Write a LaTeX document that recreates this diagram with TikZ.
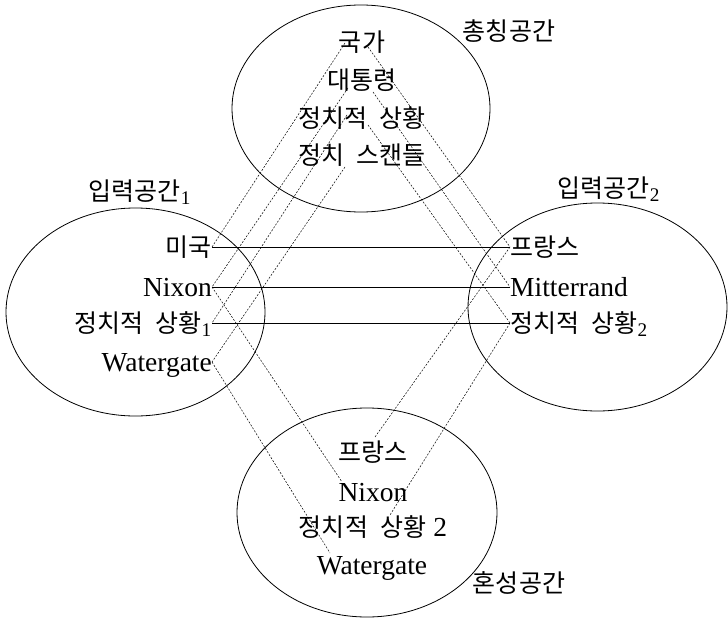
\documentclass[tikz,border=0pt]{standalone}
\usepackage{fontspec}
\setmainfont{Liberation Serif}
\newfontfamily\kr{Noto Sans CJK KR}[Scale=0.91,WordSpace=2.2]
\usetikzlibrary{calc}

\begin{document}
\begin{tikzpicture}[x=1pt, y=-1pt,
		font=\fontsize{27.5}{31}\selectfont,
		space/.style={draw, line width=0.8pt},
		item/.style={inner sep=0pt, text height=18pt, text depth=0pt},
		link/.style={line width=0.6pt},
		map/.style={line width=0.5pt, dash pattern=on 2pt off 1.5pt}]
			
			\useasboundingbox (0,0) rectangle (728,618);
			
			\draw[space] (361,108.5) ellipse (129pt and 103.5pt);
			\draw[space] (135.5,312) ellipse (129.5pt and 104pt);
			\draw[space] (597.5,307) ellipse (129.5pt and 104pt);
			\draw[space] (367,512.5) ellipse (130pt and 104.5pt);
			
			\draw(509,31) node(gname){\kr 총칭공간};
			\draw(140,192) node(iname1){{\kr 입력공간}\textsubscript{1}};
			\draw(609,189) node(iname2){{\kr 입력공간}\textsubscript{2}};
			\draw(519,583) node(bname){\kr 혼성공간};
			
			\draw(362,43) node[item](g1){\kr 국가};
			\draw(362,80) node[item](g2){\kr 대통령};
			\draw(362,118) node[item](g3){\kr 정치적 상황};
			\draw(362,155) node[item](g4){\kr 정치 스캔들};
			
			\draw(212,247) node[item, anchor=east](a1){\kr 미국};
			\draw(212,287) node[item, anchor=east](a2){Nixon};
			\draw(212,323) node[item, anchor=east](a3){{\kr 정치적 상황}\textsubscript{1}};
			\draw(212,362) node[item, anchor=east](a4){Watergate};
			
			\draw(510,247) node[item, anchor=west](b1){\kr 프랑스};
			\draw(510,287) node[item, anchor=west](b2){Mitterrand};
			\draw(510,323) node[item, anchor=west](b3){{\kr 정치적 상황}\textsubscript{2}};
			
			\draw(373,452) node[item](c1){\kr 프랑스};
			\draw(373,492) node[item](c2){Nixon};
			\draw(373,527) node[item](c3){{\kr 정치적 상황} 2};
			\draw(372,565) node[item](c4){Watergate};
			
			
			\draw[link] (a1.east) -- (b1.west);
			\draw[link] (a2.east) -- (b2.west);
			\draw[link] (a3.east) -- (b3.west);
			
			\draw[map] ($(g1)+(-17,0)$) -- (a1.east);
			\draw[map] ($(g2)+(-14,8)$) -- (a2.east);
			\draw[map] ($(g3)+(-15,-3)$) -- (a3.east);
			\draw[map] ($(g4)+(-17,12)$) -- (a4.east);
			
			\draw[map] ($(g1)+(6,4)$) -- (b1.west);
			\draw[map] ($(g2)+(11,12)$) -- (b2.west);
			\draw[map] ($(g3)+(6,7)$) -- (b3.west);
			
			\draw[map] (a2.east) -- ($(c2)+(-31,-10)$);
			\draw[map] (a4.east) -- ($(c4)+(-42,-12)$);
			\draw[map] (b1.west) -- ($(c1)+(2,-15)$);
			\draw[map] (b3.west) -- ($(c3)+(17,-12)$);
		\end{tikzpicture}
\end{document}
